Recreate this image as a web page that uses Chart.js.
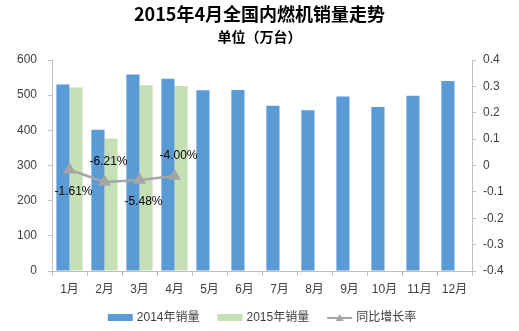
<!doctype html>
<html lang="zh">
<head>
    <meta charset="utf-8">
    <title>2015年4月全国内燃机销量走势</title>
    <script src="https://cdn.jsdelivr.net/npm/chart.js"></script>
    <style>
        body { margin: 0; background: #fff; }
        #wrap { width: 519px; height: 331px; }
    </style>
</head>
<body>
<script>
    // data
    var months = ['1月', '2月', '3月', '4月', '5月', '6月', '7月', '8月', '9月', '10月', '11月', '12月'];
    var sales2014 = [530, 402, 559, 547, 514, 515, 470, 457, 496, 466, 498, 540];
    var sales2015 = [522, 377, 528, 526, null, null, null, null, null, null, null, null];
    var growth = [-0.0161, -0.0621, -0.0548, -0.0400];
    var leftTicks = [0, 100, 200, 300, 400, 500, 600];
    var rightTicks = [-0.4, -0.3, -0.2, -0.1, 0, 0.1, 0.2, 0.3, 0.4];

    var FONT = "'Liberation Sans', 'Noto Sans CJK SC', sans-serif";
    var AXIS = '#BFBFBF';
    var TXT = '#404040';

    // percent labels next to the growth points
    var growthLabels = {
        id: 'growthLabels',
        afterDatasetsDraw: function (chart) {
            var ctx = chart.ctx;
            var meta = chart.getDatasetMeta(2);
            ctx.save();
            ctx.font = '12px ' + FONT;
            ctx.fillStyle = '#000';
            ctx.textAlign = 'center';
            ctx.textBaseline = 'middle';
            meta.data.forEach(function (pt, i) {
                var v = growth[i];
                var dy = (i % 2 === 0) ? 22 : -20;
                ctx.fillText((v * 100).toFixed(2) + '%', pt.x + 4, pt.y + dy);
            });
            ctx.restore();
        }
    };

    // excel-like legend at the bottom
    var bottomLegend = {
        id: 'bottomLegend',
        afterDraw: function (chart) {
            var ctx = chart.ctx;
            var items = [
                {text: '2014年销量', kind: 'box', color: '#5B9BD5'},
                {text: '2015年销量', kind: 'box', color: '#C5E0B4'},
                {text: '同比增长率', kind: 'line', color: '#A5A5A5'}
            ];
            ctx.save();
            ctx.font = '12px ' + FONT;
            ctx.textBaseline = 'middle';
            var sw = 25, gap = 4, spacing = 18;
            var total = 0;
            items.forEach(function (it, i) {
                it.w = ctx.measureText(it.text).width;
                total += sw + gap + it.w + (i ? spacing : 0);
            });
            var x = (chart.chartArea.left + chart.chartArea.right) / 2 - total / 2;
            var y = 318;
            items.forEach(function (it) {
                if (it.kind === 'box') {
                    ctx.fillStyle = it.color;
                    ctx.fillRect(x, y - 4, sw, 7);
                } else {
                    ctx.strokeStyle = it.color;
                    ctx.lineWidth = 2;
                    ctx.beginPath();
                    ctx.moveTo(x, y);
                    ctx.lineTo(x + sw, y);
                    ctx.stroke();
                    ctx.fillStyle = it.color;
                    ctx.beginPath();
                    ctx.moveTo(x + sw / 2, y - 4);
                    ctx.lineTo(x + sw / 2 + 4, y + 3);
                    ctx.lineTo(x + sw / 2 - 4, y + 3);
                    ctx.closePath();
                    ctx.fill();
                }
                ctx.fillStyle = TXT;
                ctx.fillText(it.text, x + sw + gap, y);
                x += sw + gap + it.w + spacing;
            });
            ctx.restore();
        }
    };

    window.onload = function () {
        var ctx = document.getElementById('chart');
        var myChart = new Chart(ctx, {
            type: 'bar',
            data: {
                labels: months,
                datasets: [{
                    label: '2014年销量',
                    data: sales2014,
                    backgroundColor: '#5B9BD5',
                    yAxisID: 'y',
                    order: 2
                }, {
                    label: '2015年销量',
                    data: sales2015,
                    backgroundColor: '#C5E0B4',
                    yAxisID: 'y',
                    order: 2
                }, {
                    type: 'line',
                    label: '同比增长率',
                    data: growth,
                    borderColor: '#A5A5A5',
                    backgroundColor: '#A5A5A5',
                    borderWidth: 2.5,
                    pointStyle: 'triangle',
                    pointRadius: 5,
                    yAxisID: 'y1',
                    order: 1
                }]
            },
            options: {
                responsive: true,
                maintainAspectRatio: false,
                animation: false,
                layout: {padding: {top: 0, bottom: 34, left: 0, right: 0}},
                datasets: {
                    bar: {categoryPercentage: 0.75, barPercentage: 1}
                },
                scales: {
                    x: {
                        grid: {display: true, drawOnChartArea: false, tickLength: 5, color: AXIS},
                        border: {color: AXIS},
                        ticks: {font: {size: 12, family: FONT}, color: TXT, padding: 6, maxRotation: 0, autoSkip: false},
                        afterFit: function (s) { s.height = 26; }
                    },
                    y: {
                        position: 'left',
                        min: 0,
                        max: 600,
                        grid: {display: true, drawOnChartArea: false, tickLength: 4, color: AXIS},
                        border: {color: AXIS},
                        afterBuildTicks: function (s) { s.ticks = leftTicks.map(function (v) { return {value: v}; }); },
                        ticks: {font: {size: 12, family: FONT}, color: TXT, padding: 11},
                        afterFit: function (s) { s.width = 52; }
                    },
                    y1: {
                        position: 'right',
                        min: -0.4,
                        max: 0.4,
                        grid: {display: true, drawOnChartArea: false, tickLength: 4, color: AXIS},
                        border: {color: AXIS},
                        afterBuildTicks: function (s) { s.ticks = rightTicks.map(function (v) { return {value: v}; }); },
                        ticks: {
                            font: {size: 12, family: FONT}, color: TXT, padding: 7,
                            callback: function (v) { return String(Math.round(v * 10) / 10); }
                        },
                        afterFit: function (s) { s.width = 47; }
                    }
                },
                plugins: {
                    legend: {display: false},
                    tooltip: {enabled: false},
                    title: {
                        display: true,
                        text: '2015年4月全国内燃机销量走势',
                        color: '#000',
                        font: {size: 18, weight: 'bold', family: "'Noto Sans CJK SC', sans-serif", lineHeight: 1.2},
                        padding: {top: 3, bottom: 0}
                    },
                    subtitle: {
                        display: true,
                        text: '单位（万台）',
                        color: '#000',
                        font: {size: 14, weight: 'bold', family: "'Noto Sans CJK SC', sans-serif", lineHeight: 1.2},
                        padding: {top: 4, bottom: 14.6}
                    }
                }
            },
            plugins: [growthLabels, bottomLegend]
        });
    };
</script>
<div id="wrap">
    <canvas id="chart"></canvas>
</div>
</body>
</html>
